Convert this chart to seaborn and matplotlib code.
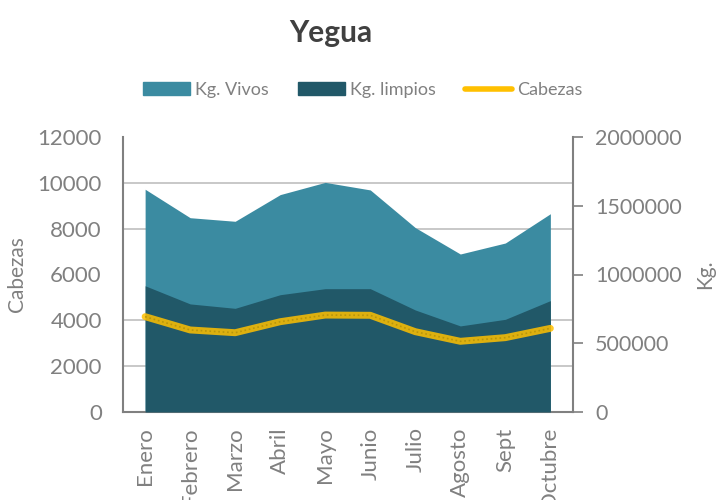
import numpy as np
import matplotlib.pyplot as plt
import seaborn as sns
from matplotlib.patches import Patch
from matplotlib.lines import Line2D
from matplotlib.ticker import MultipleLocator, FixedLocator, StrMethodFormatter

# Data
meses = ['Enero', 'Febrero', 'Marzo', 'Abril', 'Mayo', 'Junio',
         'Julio', 'Agosto', 'Sept', 'Octubre']
kg_vivos = [1620000, 1413000, 1387000, 1581000, 1670000, 1615000,
            1341000, 1149000, 1229000, 1442000]
kg_limpios = [918000, 786000, 754000, 853000, 897000, 897000,
              742000, 626000, 674000, 810000]
cabezas = [4160, 3580, 3460, 3940, 4230, 4220, 3505, 3085, 3245, 3650]

sns.set_theme(style='white')
plt.rcParams['font.family'] = ['Lato', 'DejaVu Sans']

gray = '#808080'
c_vivos = '#3B8BA1'
c_limpios = '#215868'
c_cab = '#FFC000'

fig = plt.figure(figsize=(7.17, 5.0), dpi=100)
ax = fig.add_axes([0.171, 0.176, 0.628, 0.55])
x = np.arange(len(meses))

# areas on the Kg. scale (right side)
ax.fill_between(x, kg_vivos, color=c_vivos, lw=0, zorder=2)
ax.fill_between(x, kg_limpios, color=c_limpios, lw=0, zorder=3)
ax.set_ylim(0, 2000000)
ax.set_xlim(-0.5, len(meses) - 0.5)

# Cabezas line on the left axis
ax2 = ax.twinx()
sns.lineplot(x=x, y=cabezas, ax=ax2, color=c_cab, lw=5, alpha=0.85, zorder=5)
ax2.plot(x, cabezas, color='#B8960C', lw=1.2, ls=':', zorder=6)
ax2.set_ylim(0, 12000)
ax2.yaxis.set_major_locator(MultipleLocator(2000))

# swap sides: Kg. to the right, Cabezas to the left
ax.yaxis.tick_right()
ax.yaxis.set_label_position('right')
ax2.yaxis.tick_left()
ax2.yaxis.set_label_position('left')

ax.yaxis.set_major_locator(MultipleLocator(500000))
ax.yaxis.set_major_formatter(StrMethodFormatter('{x:.0f}'))
ax.yaxis.set_minor_locator(FixedLocator(np.linspace(0, 2000000, 7)))
ax.grid(which='minor', axis='y', color='#BFBFBF', lw=1.2, zorder=0)
ax.set_axisbelow(True)
ax.tick_params(axis='y', which='major', left=False, right=True, length=7,
               width=1.2, color=gray, labelcolor=gray, labelsize=15.5, pad=9,
               labelleft=False, labelright=True)
ax.tick_params(axis='y', which='minor', length=0)
ax.set_ylabel('Kg.', color=gray, fontsize=15)
ax.yaxis.set_label_coords(1.272, 0.5)
ax.set_xticks(x)
ax.set_xticklabels(meses, rotation=90, va='top')
ax.tick_params(axis='x', length=0, labelcolor=gray, labelsize=16, pad=11)

ax.spines['top'].set_visible(False)
for side in ['left', 'right', 'bottom']:
    ax.spines[side].set_color(gray)
    ax.spines[side].set_linewidth(1.5)

ax2.tick_params(axis='y', left=False, right=False, labelleft=True,
                labelright=False, labelcolor=gray, labelsize=16, pad=9)
ax2.set_ylabel('Cabezas', color=gray, fontsize=15)
ax2.yaxis.set_label_coords(-0.212, 0.5)
for side in ax2.spines:
    ax2.spines[side].set_visible(False)

fig.text(0.462, 0.934, 'Yegua', ha='center', va='center', fontsize=21.5,
         fontweight='bold', color='#404040')

handles = [Patch(color=c_vivos), Patch(color=c_limpios),
           Line2D([], [], color=c_cab, lw=4)]
fig.legend(handles, ['Kg. Vivos', 'Kg. limpios', 'Cabezas'], ncol=3,
           loc='center', bbox_to_anchor=(0.506, 0.82), frameon=False,
           fontsize=13, labelcolor=gray, handlelength=2.6, handleheight=0.7,
           columnspacing=1.6, handletextpad=0.3)

fig.savefig('out.png', dpi=100, facecolor='white')
